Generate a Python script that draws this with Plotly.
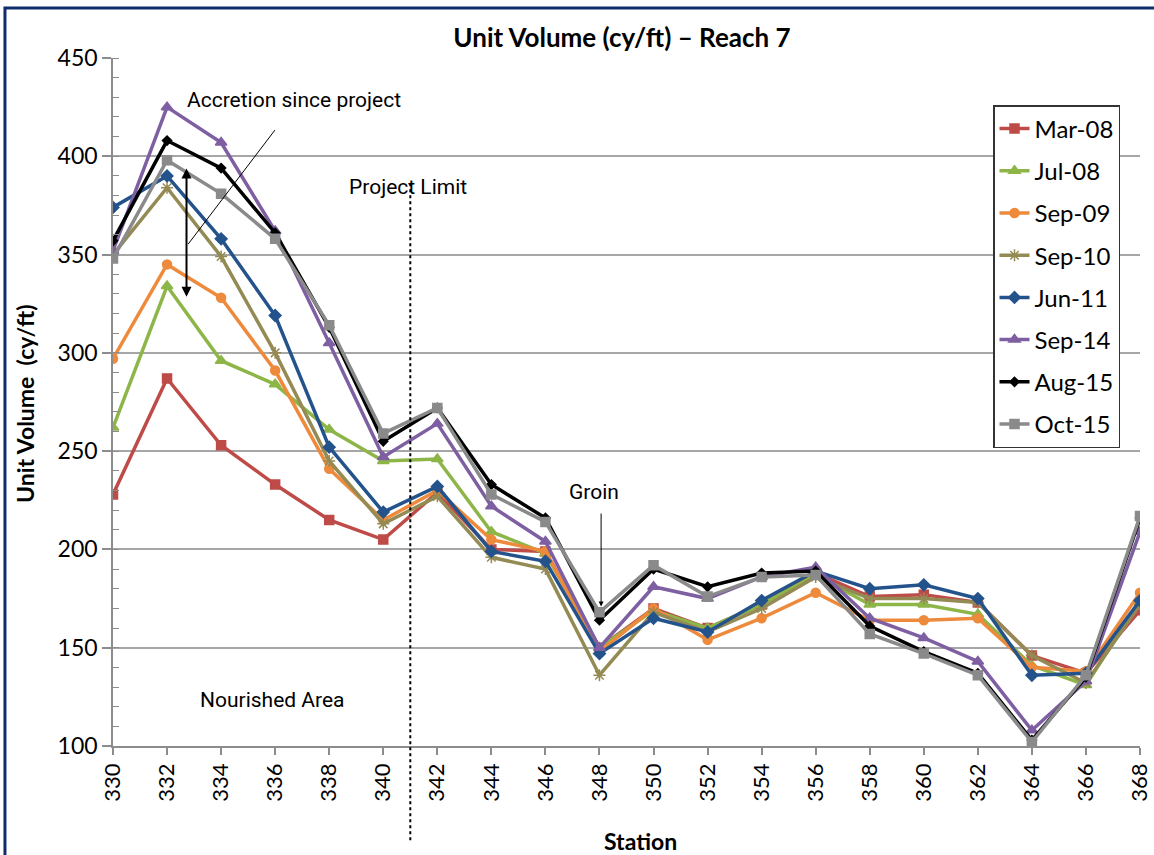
import plotly.graph_objects as go

stations = [330, 332, 334, 336, 338, 340, 342, 344, 346, 348, 350, 352, 354, 356, 358, 360, 362, 364, 366, 368]

mar08 = [228, 287, 253, 233, 215, 205, 229, 200, 199, 150, 170, 160, 172, 188, 176, 177, 173, 146, 137, 169]
jul08 = [262, 334, 296, 284, 261, 245, 246, 209, 198, 150, 169, 160, 172, 187, 172, 172, 167, 141, 131, 174]
sep09 = [297, 345, 328, 291, 241, 215, 230, 205, 199, 148, 170, 154, 165, 178, 164, 164, 165, 140, 138, 178]
sep10 = [350, 384, 349, 300, 245, 213, 227, 196, 190, 136, 168, 158, 170, 186, 175, 175, 173, 146, 132, 172]
jun11 = [374, 390, 358, 319, 252, 219, 232, 199, 194, 147, 165, 158, 174, 189, 180, 182, 175, 136, 137, 174]
sep14 = [352, 425, 407, 362, 305, 247, 264, 222, 204, 150, 181, 175, 186, 191, 165, 155, 143, 108, 133, 209]
aug15 = [357, 408, 394, 361, 313, 255, 272, 233, 216, 164, 190, 181, 188, 189, 161, 148, 137, 103, 135, 216]
oct15 = [348, 398, 381, 358, 314, 259, 272, 228, 214, 168, 192, 176, 186, 187, 157, 147, 136, 102, 136, 217]

series_names = ["Mar-08", "Jul-08", "Sep-09", "Sep-10", "Jun-11", "Sep-14", "Aug-15", "Oct-15"]
series_values = [mar08, jul08, sep09, sep10, jun11, sep14, aug15, oct15]
colors = ["#BE4B48", "#8DB548", "#EE8A3C", "#948A54", "#24538C", "#7E5FA2", "#000000", "#8A8A8A"]
symbols = ["square", "triangle-up", "circle", "asterisk-open", "diamond", "triangle-up", "diamond", "square"]
msizes = [9, 10, 9, 10, 9, 10, 7, 9]

FONT = "Lato, 'Open Sans', Arial, sans-serif"
NARROW = "'Liberation Sans Narrow', 'Arial Narrow', Roboto, sans-serif"

fig = go.Figure()
for i, (name, vals) in enumerate(zip(series_names, series_values)):
    fig.add_trace(go.Scatter(
        x=stations, y=vals, name=name, mode="lines+markers",
        legendgroup=name,
        line=dict(color=colors[i], width=3.5),
        marker=dict(symbol=symbols[i], size=msizes[i], color=colors[i],
                    line=dict(color=colors[i], width=1.5)),
    ))

# frame around the whole picture
fig.add_shape(type="rect", xref="paper", yref="paper",
              x0=-0.1052, x1=1.0195, y0=-0.18, y1=1.0727,
              line=dict(color="#102C6C", width=3), layer="above")

# project limit dotted line
fig.add_shape(type="line", xref="x", yref="paper", x0=341, x1=341, y0=-0.137, y1=0.818,
              line=dict(color="black", width=2, dash="dot"))

# leader line from accretion label
fig.add_shape(type="line", xref="x", yref="y", x0=335.99, y0=413.3, x1=332.78, y1=355.3,
              line=dict(color="black", width=1))

annotations = [
    dict(x=332.72, y=328.5, ax=332.72, ay=394.5, xref="x", yref="y", axref="x", ayref="y",
         text="", showarrow=True, arrowhead=2, arrowside="end+start", arrowsize=1,
         arrowwidth=2, arrowcolor="black"),
    dict(x=348.06, y=171, ax=348.06, ay=219, xref="x", yref="y", axref="x", ayref="y",
         text="", showarrow=True, arrowhead=2, arrowsize=1, arrowwidth=1, arrowcolor="black"),
    dict(x=336.7, y=428.6, xref="x", yref="y", text="Accretion since project", showarrow=False,
         font=dict(family=NARROW, size=21, color="black")),
    dict(x=340.9, y=384.3, xref="x", yref="y", text="Project Limit", showarrow=False,
         font=dict(family=NARROW, size=21, color="black")),
    dict(x=347.8, y=229, xref="x", yref="y", text="Groin", showarrow=False,
         font=dict(family=NARROW, size=21, color="black")),
    dict(x=335.9, y=123.4, xref="x", yref="y", text="Nourished Area", showarrow=False,
         font=dict(family=NARROW, size=21, color="black")),
    dict(x=(640 - 113) / 1027, y=(746 - 841) / 688, xref="paper", yref="paper", text="<b>Station</b>",
         showarrow=False, font=dict(family=FONT, size=23, color="black"), yanchor="middle"),
    dict(x=(25 - 113) / 1027, y=(746 - 404) / 688, xref="paper", yref="paper",
         text="<b>Unit Volume  (cy/ft)</b>", textangle=-90,
         showarrow=False, font=dict(family=FONT, size=23, color="black"), xanchor="center", yanchor="middle"),
]

fig.update_layout(
    width=1154, height=855,
    margin=dict(l=113, r=14, t=58, b=109, autoexpand=False),
    paper_bgcolor="white", plot_bgcolor="white",
    title=dict(text="<b>Unit Volume (cy/ft) – Reach 7</b>", x=622 / 1154, y=1 - 38 / 855,
               xanchor="center", yanchor="middle",
               font=dict(family=FONT, size=26, color="black")),
    font=dict(family=FONT, color="black"),
    annotations=annotations,
    showlegend=True,
    legend=dict(x=(993 - 113) / 1027, y=(746 - 105) / 688, xanchor="left", yanchor="top",
                bgcolor="white", bordercolor="#333333", borderwidth=1.5,
                font=dict(family=FONT, size=24, color="black"),
                tracegroupgap=8, itemwidth=30),
    xaxis=dict(range=[330, 368], tickvals=stations, ticktext=[str(s) for s in stations],
               tickangle=-90, showgrid=False, zeroline=False, automargin=False,
               showline=True, linecolor="#8C8C8C", linewidth=1.5,
               ticks="outside", ticklen=7, tickcolor="#8C8C8C", tickwidth=1.5,
               tickfont=dict(family=FONT, size=22, color="black")),
    yaxis=dict(range=[100, 450], tick0=100, dtick=50, showgrid=True, gridcolor="#A6A6A6",
               gridwidth=1.5, zeroline=False, automargin=False,
               showline=True, linecolor="#8C8C8C", linewidth=1.5,
               ticks="outside", ticklen=9, tickcolor="#8C8C8C", tickwidth=1.5,
               tickfont=dict(family=FONT, size=23, color="black"),
               minor=dict(dtick=10, ticks="inside", ticklen=6, tickcolor="#8C8C8C", tickwidth=1.2,
                          showgrid=False)),
)

fig.write_html("out.html", config={"displayModeBar": False},
               post_script="document.body.style.margin='0';document.body.style.padding='0';")
